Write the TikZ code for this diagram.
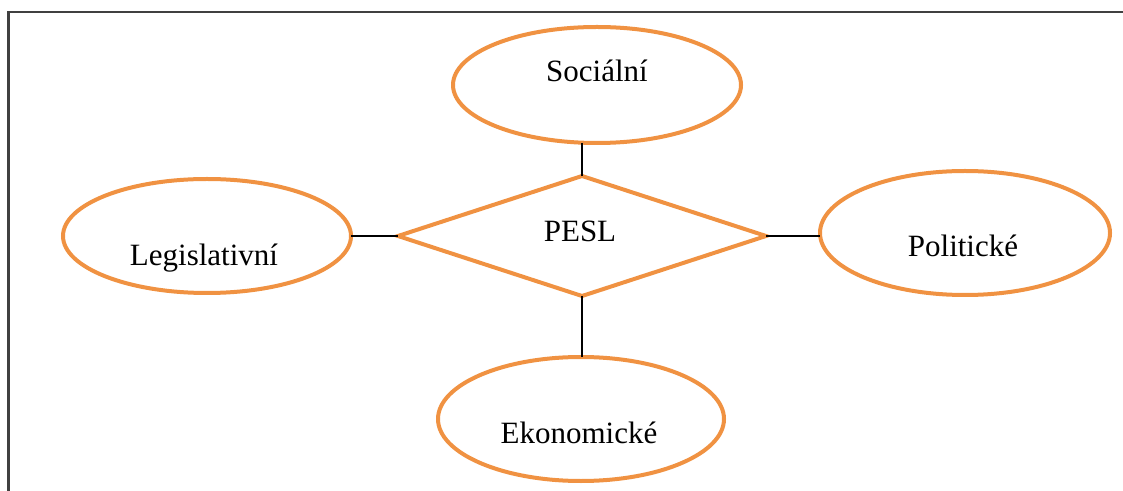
\documentclass[tikz,border=0pt]{standalone}
\usepackage{fontspec}
\setmainfont{Liberation Serif}
\usetikzlibrary{shapes.geometric}

\definecolor{pestorange}{RGB}{240,146,66}
\tikzset{
  factorbox/.style={ellipse, draw=pestorange, line width=2pt, inner sep=0pt, outer sep=0pt},
  hub/.style={diamond, draw=pestorange, line width=2pt, inner sep=0pt, outer sep=0pt,
              minimum width=184pt, minimum height=60pt},
  lbl/.style={anchor=base, inner sep=0pt, font=\fontsize{15.5}{18}\selectfont},
  link/.style={draw=black, line width=0.7pt}
}

\begin{document}
\begin{tikzpicture}[x=0.5pt,y=-0.5pt]

      \useasboundingbox (0,0) rectangle (1123,491);

      % Frame
      \draw[line width=1.2pt, black!75] (8.5,510) -- (8.5,12) -- (1140,12);

      % Define nodes
	  \node[hub]                                                     (pesl) at (582,236) {};
	  \node[factorbox, minimum width=144pt, minimum height=58pt]     (soc)  at (597,85)  {};
	  \node[factorbox, minimum width=143pt, minimum height=62pt]     (eko)  at (581,419) {};
	  \node[factorbox, minimum width=144pt, minimum height=57pt]     (leg)  at (207,236) {};
	  \node[factorbox, minimum width=145pt, minimum height=62pt]     (pol)  at (965,233) {};

	  % Labels
	  \node[lbl] (pesl-t) at (580,242) {PESL};
	  \node[lbl] (soc-t)  at (597,82)  {Sociální};
	  \node[lbl] (eko-t)  at (579,443) {Ekonomické};
	  \node[lbl] (leg-t)  at (204,266) {Legislativní};
	  \node[lbl] (pol-t)  at (963,257) {Politické};

	  % Connect the nodes
	  \draw[link] (pesl.north) -- (pesl.north |- soc.south);
	  \draw[link] (pesl.south) -- (pesl.south |- eko.north);
	  \draw[link] (leg.east)   -- (pesl.west);
	  \draw[link] (pesl.east)  -- (pesl.east -| pol.west);

	\end{tikzpicture}
\end{document}
